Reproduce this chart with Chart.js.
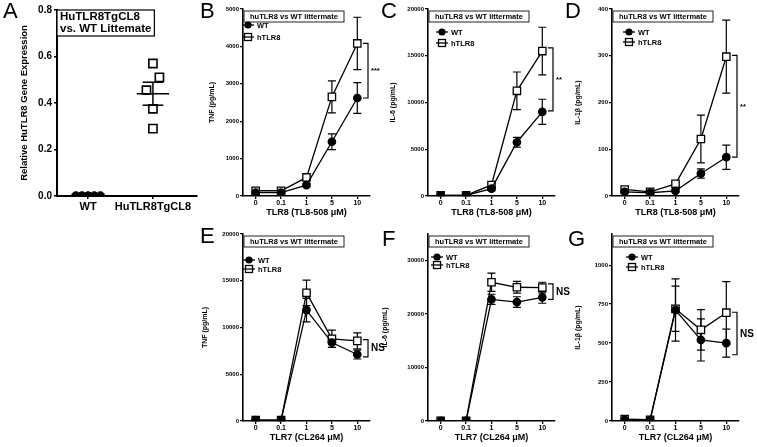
<!DOCTYPE html>
<html>
<head>
<meta charset="utf-8">
<script src="https://cdn.jsdelivr.net/npm/chart.js@4.4.1/dist/chart.umd.min.js"></script>
<style>
  html, body { margin: 0; padding: 0; background: #fff; }
  #fig { position: relative; width: 757px; height: 447px; overflow: hidden; font-family: "Liberation Sans", Arial, sans-serif; }
  .pane { position: absolute; }
  .letter { position: absolute; font-size: 22px; line-height: 22px; color: #000; z-index: 5; }
</style>
</head>
<body>
<div id="fig"></div>
<script>
// ------------------------------------------
// data
// ------------------------------------------
const GROUPS = ['WT', 'HuTLR8TgCL8'];
const EXPR_WT = [0, 0, 0, 0, 0];
const EXPR_TG = [0.57, 0.51, 0.455, 0.375, 0.29];
const LEGEND_A = ['HuTLR8TgCL8', 'vs. WT Littemate'];

const DOSES = ['0', '0.1', '1', '5', '10'];
const SERIES_NAMES = ['WT', 'hTLR8'];
const LEGEND_TITLE = 'huTLR8 vs WT littermate';

// B: TNF, TLR8 agonist
const TNF8_WT = [88, 88, 292, 1451, 2620];
const TNF8_WT_SEM = [20, 20, 40, 210, 410];
const TNF8_TG = [140, 140, 496, 2650, 4080];
const TNF8_TG_SEM = [30, 30, 60, 430, 700];
const SIG_B = ['***', 4080, 2620];

// C: IL-6, TLR8 agonist
const IL6_8_WT = [60, 60, 785, 5750, 9000];
const IL6_8_WT_SEM = [30, 30, 200, 520, 1350];
const IL6_8_TG = [60, 60, 1180, 11250, 15500];
const IL6_8_TG_SEM = [30, 30, 250, 2010, 2550];
const SIG_C = ['**', 15840, 9100];

// D: IL-1b, TLR8 agonist
const IL1_8_WT = [9, 7, 11, 48, 83];
const IL1_8_WT_SEM = [3, 2, 3, 10, 26];
const IL1_8_TG = [14, 9, 26, 122, 298];
const IL1_8_TG_SEM = [3, 2, 4, 51, 78];
const SIG_D = ['**', 301, 83];

// E: TNF, TLR7 agonist
const TNF7_WT = [100, 100, 11860, 8390, 7110];
const TNF7_WT_SEM = [50, 50, 1250, 530, 480];
const TNF7_TG = [100, 100, 13710, 8790, 8570];
const TNF7_TG_SEM = [50, 50, 1360, 920, 860];
const SIG_E = ['NS', 8710, 6860];

// F: IL-6, TLR7 agonist
const IL6_7_WT = [30, 30, 22770, 22260, 23140];
const IL6_7_WT_SEM = [0, 0, 950, 1000, 1100];
const IL6_7_TG = [30, 30, 25970, 25030, 24970];
const IL6_7_TG_SEM = [0, 0, 1700, 1100, 1000];
const SIG_F = ['NS', 25660, 22770];

// G: IL-1b, TLR7 agonist
const IL1_7_WT = [8, 5, 712, 520, 500];
const IL1_7_WT_SEM = [4, 2, 200, 135, 90];
const IL1_7_TG = [12, 8, 720, 585, 695];
const IL1_7_TG_SEM = [5, 3, 145, 130, 200];
const SIG_G = ['NS', 698, 425];

// ------------------------------------------
// setup
// ------------------------------------------
const FONT = "'Liberation Sans', Arial, sans-serif";
Chart.defaults.font.family = FONT;
Chart.defaults.color = '#000';
const fig = document.getElementById('fig');

function addLetter(txt, x, y) {
    const d = document.createElement('div');
    d.className = 'letter';
    d.textContent = txt;
    d.style.left = x + 'px';
    d.style.top = y + 'px';
    fig.appendChild(d);
}

function addPane(left, top, w, h) {
    const d = document.createElement('div');
    d.className = 'pane';
    d.style.left = left + 'px';
    d.style.top = top + 'px';
    d.style.width = w + 'px';
    d.style.height = h + 'px';
    const cv = document.createElement('canvas');
    d.appendChild(cv);
    fig.appendChild(d);
    return cv;
}

// ticks at 0, step, 2*step ... up to max
function evenTicks(max, step) {
    return s => {
        const out = [];
        for (let k = 0; k * step <= max + 1e-9; k++) out.push({ value: +(k * step).toFixed(6) });
        s.ticks = out;
    };
}

function meanSem(vals) {
    const n = vals.length;
    const m = vals.reduce((a, b) => a + b, 0) / n;
    const sd = Math.sqrt(vals.reduce((a, b) => a + (b - m) * (b - m), 0) / (n - 1));
    return [m, sd / Math.sqrt(n)];
}

// sideways spread so markers don't sit on top of each other
function swarm(vals, step, near) {
    const off = vals.map(() => 0);
    const groups = {};
    vals.forEach((v, i) => (groups[v] = groups[v] || []).push(i));
    Object.values(groups).forEach(g => {
        if (g.length > 1) g.forEach((idx, k) => off[idx] = (k - (g.length - 1) / 2) * step);
    });
    const order = vals.map((v, i) => i).sort((a, b) => vals[b] - vals[a]);
    for (let k = 1; k < order.length; k++) {
        const a = order[k - 1], b = order[k];
        const d = vals[a] - vals[b];
        if (d > 0 && d < near && off[a] === 0 && off[b] === 0) { off[a] = step; off[b] = -step; }
    }
    return off;
}

// ------------------------------------------
// panel A
// ------------------------------------------
function panelA() {
    const cv = addPane(14, 0, 190, 225);
    const offWT = swarm(EXPR_WT, 0.095, 0.058);
    const offTG = swarm(EXPR_TG, 0.1, 0.058);

    const aDeco = {
        id: 'aDeco',
        afterDatasetsDraw(chart) {
            const { ctx, scales: { x, y } } = chart;
            ctx.save();
            ctx.strokeStyle = '#000';
            ctx.lineWidth = 1.5;
            [EXPR_WT, EXPR_TG].forEach((vals, gi) => {
                const [m, s] = meanSem(vals);
                const line = (x0, x1, v) => {
                    ctx.beginPath();
                    ctx.moveTo(x.getPixelForValue(gi + x0), y.getPixelForValue(v));
                    ctx.lineTo(x.getPixelForValue(gi + x1), y.getPixelForValue(v));
                    ctx.stroke();
                };
                line(-0.25, 0.25, m);
                if (s > 0) {
                    line(-0.16, 0.16, m + s);
                    line(-0.16, 0.16, m - s);
                    ctx.beginPath();
                    ctx.moveTo(x.getPixelForValue(gi), y.getPixelForValue(m + s));
                    ctx.lineTo(x.getPixelForValue(gi), y.getPixelForValue(m - s));
                    ctx.stroke();
                }
            });
            ctx.restore();
        },
        afterDraw(chart) {
            const { ctx, chartArea } = chart;
            ctx.save();
            ctx.font = 'bold 11.5px ' + FONT;
            const w = Math.max(...LEGEND_A.map(t => ctx.measureText(t).width)) + 6;
            ctx.fillStyle = '#fff';
            ctx.fillRect(chartArea.left, chartArea.top, w, 26);
            ctx.strokeStyle = '#000';
            ctx.lineWidth = 1.2;
            ctx.strokeRect(chartArea.left, chartArea.top, w, 26);
            ctx.fillStyle = '#000';
            ctx.textBaseline = 'middle';
            LEGEND_A.forEach((t, i) => ctx.fillText(t, chartArea.left + 3, chartArea.top + 7 + i * 12));
            ctx.restore();
        }
    };

    new Chart(cv, {
        type: 'scatter',
        data: {
            datasets: [
                {
                    label: GROUPS[0],
                    data: EXPR_WT.map((v, i) => ({ x: 0 + offWT[i], y: v })),
                    pointStyle: 'circle', pointRadius: 4.3,
                    pointBackgroundColor: '#000', pointBorderColor: '#000'
                },
                {
                    label: GROUPS[1],
                    data: EXPR_TG.map((v, i) => ({ x: 1 + offTG[i], y: v })),
                    pointStyle: 'rect', pointRadius: 5.8,
                    pointBackgroundColor: '#fff', pointBorderColor: '#000', pointBorderWidth: 1.6
                }
            ]
        },
        options: {
            responsive: true, maintainAspectRatio: false, animation: false,
            layout: { padding: { top: 10, right: 7, left: 0, bottom: 0 }, autoPadding: false },
            plugins: { legend: { display: false }, tooltip: { enabled: false } },
            scales: {
                x: {
                    type: 'linear', min: -0.48, max: 1.68,
                    afterBuildTicks: s => { s.ticks = GROUPS.map((g, i) => ({ value: i })); },
                    afterFit: s => { s.height = 29; },
                    grid: { drawOnChartArea: false, tickLength: 3, color: '#000', lineWidth: 1.5 },
                    border: { color: '#000', width: 2 },
                    ticks: {
                        callback: (v, i) => GROUPS[i], padding: 1,
                        font: { size: 11, weight: 'bold' }, color: '#000', maxRotation: 0
                    }
                },
                y: {
                    min: 0, max: 0.8,
                    afterFit: s => { s.width = 43; },
                    afterBuildTicks: evenTicks(0.8, 0.2),
                    grid: { drawOnChartArea: false, tickLength: 3, color: '#000', lineWidth: 1.5 },
                    border: { color: '#000', width: 2 },
                    ticks: { callback: v => v.toFixed(1), padding: 2, font: { size: 10, weight: 'bold' }, color: '#000' },
                    title: {
                        display: true, text: 'Relative HuTLR8 Gene Expression', color: '#000',
                        font: { size: 9.5, weight: 'bold' }, padding: { top: 5, bottom: 0 }
                    }
                }
            }
        },
        plugins: [aDeco]
    });
}

// ------------------------------------------
// panels B-G
// ------------------------------------------
const PLOT_W = 127;

function panelDeco(p) {
    return {
        id: 'deco',
        beforeDatasetsDraw(chart) {
            const { ctx, scales: { x, y } } = chart;
            ctx.save();
            ctx.strokeStyle = '#000';
            ctx.lineWidth = 1.2;
            chart.data.datasets.forEach(ds => {
                ds.data.forEach((v, i) => {
                    const e = ds.sem[i];
                    if (!e) return;
                    const px = x.getPixelForValue(i);
                    const t = y.getPixelForValue(v + e);
                    const b = y.getPixelForValue(Math.max(0, v - e));
                    ctx.beginPath();
                    ctx.moveTo(px, t); ctx.lineTo(px, b);
                    ctx.moveTo(px - 4, t); ctx.lineTo(px + 4, t);
                    ctx.moveTo(px - 4, b); ctx.lineTo(px + 4, b);
                    ctx.stroke();
                });
            });
            ctx.restore();
        },
        afterDraw(chart) {
            const { ctx, chartArea, scales: { y } } = chart;
            ctx.save();
            // legend box
            const bx = chartArea.left + 1, by = chartArea.top + 2;
            ctx.fillStyle = '#fff';
            ctx.fillRect(bx, by, 100, 11);
            ctx.strokeStyle = '#222';
            ctx.lineWidth = 1;
            ctx.strokeRect(bx, by, 100, 11);
            ctx.fillStyle = '#000';
            ctx.font = 'bold 7.5px ' + FONT;
            ctx.textAlign = 'center';
            ctx.textBaseline = 'middle';
            ctx.fillText(LEGEND_TITLE, bx + 50, by + 6);
            // legend rows
            ctx.textAlign = 'left';
            SERIES_NAMES.forEach((name, i) => {
                const mx = chartArea.left + p.legDx;
                const my = chartArea.top + p.legRows[i];
                ctx.strokeStyle = '#000';
                ctx.lineWidth = 1.3;
                ctx.beginPath();
                ctx.moveTo(mx - 6, my); ctx.lineTo(mx + 6, my);
                ctx.stroke();
                if (i === 0) {
                    ctx.beginPath();
                    ctx.arc(mx, my, 3.6, 0, Math.PI * 2);
                    ctx.fill();
                } else {
                    ctx.strokeRect(mx - 3.5, my - 3.5, 7, 7);
                }
                ctx.fillText(name, mx + 9, my + 0.5);
            });
            // significance bracket
            const [label, hi, lo] = p.sig;
            const sx = chartArea.right - 2;
            const yt = y.getPixelForValue(hi), yb = y.getPixelForValue(lo);
            ctx.lineWidth = 1.2;
            ctx.beginPath();
            ctx.moveTo(sx - 5, yt); ctx.lineTo(sx, yt); ctx.lineTo(sx, yb); ctx.lineTo(sx - 5, yb);
            ctx.stroke();
            ctx.font = (label === 'NS' ? 'bold 10px ' : 'bold 7.5px ') + FONT;
            ctx.fillText(label, sx + 3, (yt + yb) / 2 + 0.5);
            ctx.restore();
        }
    };
}

function linePanel(p) {
    const left = p.axisX - p.yw;
    const w = p.yw + PLOT_W + 24;
    const cv = addPane(left, p.top, w, p.h);
    new Chart(cv, {
        type: 'line',
        data: {
            labels: DOSES,
            datasets: [
                {
                    label: SERIES_NAMES[0], data: p.wt, sem: p.wtSem,
                    borderColor: '#000', borderWidth: 1.3, tension: 0, fill: false,
                    pointStyle: 'circle', pointRadius: 3.7,
                    pointBackgroundColor: '#000', pointBorderColor: '#000'
                },
                {
                    label: SERIES_NAMES[1], data: p.tg, sem: p.tgSem,
                    borderColor: '#000', borderWidth: 1.3, tension: 0, fill: false,
                    pointStyle: 'rect', pointRadius: 5.2,
                    pointBackgroundColor: '#fff', pointBorderColor: '#000', pointBorderWidth: 1.3
                }
            ]
        },
        options: {
            responsive: true, maintainAspectRatio: false, animation: false,
            layout: { padding: { top: 9, right: 24, left: 0, bottom: 0 }, autoPadding: false },
            plugins: { legend: { display: false }, tooltip: { enabled: false } },
            scales: {
                x: {
                    offset: true,
                    afterFit: s => { s.height = p.h - 196; },
                    grid: { drawOnChartArea: false, offset: false, tickLength: 3, color: '#000', lineWidth: 1.3 },
                    border: { color: '#000', width: 1.6 },
                    ticks: { color: '#000', font: { size: 7, weight: 'bold' }, padding: 0, maxRotation: 0, autoSkip: false },
                    title: {
                        display: true, text: p.xTitle, color: '#000',
                        font: { size: 9, weight: 'bold' }, padding: { top: 0, bottom: p.titlePad }
                    }
                },
                y: {
                    min: 0, max: p.max,
                    afterFit: s => { s.width = p.yw; },
                    afterBuildTicks: evenTicks(p.max, p.step),
                    grid: { drawOnChartArea: false, tickLength: 3, color: '#000', lineWidth: 1.3 },
                    border: { color: '#000', width: 1.6 },
                    ticks: { callback: v => String(v), color: '#000', font: { size: 6, weight: 'bold' }, padding: 1 },
                    title: {
                        display: true, text: p.yTitle, color: '#000',
                        font: { size: 7, weight: 'bold' }, padding: { top: 3, bottom: 0 }
                    }
                }
            }
        },
        plugins: [panelDeco(p)]
    });
}

const X8 = 'TLR8 (TL8-508 \u03bcM)';
const X7 = 'TLR7 (CL264 \u03bcM)';

panelA();
linePanel({ axisX: 243, top: 0, h: 225, yw: 38, titlePad: 7, wt: TNF8_WT, wtSem: TNF8_WT_SEM, tg: TNF8_TG, tgSem: TNF8_TG_SEM,
    max: 5000, step: 1000, yTitle: 'TNF (pg/mL)', xTitle: X8, sig: SIG_B, legDx: 5, legRows: [16, 28] });
linePanel({ axisX: 428, top: 0, h: 225, yw: 42, titlePad: 7, wt: IL6_8_WT, wtSem: IL6_8_WT_SEM, tg: IL6_8_TG, tgSem: IL6_8_TG_SEM,
    max: 20000, step: 5000, yTitle: 'IL-6 (pg/mL)', xTitle: X8, sig: SIG_C, legDx: 14, legRows: [23, 34] });
linePanel({ axisX: 612, top: 0, h: 225, yw: 41, titlePad: 7, wt: IL1_8_WT, wtSem: IL1_8_WT_SEM, tg: IL1_8_TG, tgSem: IL1_8_TG_SEM,
    max: 400, step: 100, yTitle: 'IL-1\u03b2 (pg/mL)', xTitle: X8, sig: SIG_D, legDx: 17, legRows: [23, 33] });
linePanel({ axisX: 243, top: 225, h: 222, yw: 45, titlePad: 4, wt: TNF7_WT, wtSem: TNF7_WT_SEM, tg: TNF7_TG, tgSem: TNF7_TG_SEM,
    max: 20000, step: 5000, yTitle: 'TNF (pg/mL)', xTitle: X7, sig: SIG_E, legDx: 6, legRows: [26, 35] });
linePanel({ axisX: 428, top: 225, h: 222, yw: 50, titlePad: 4, wt: IL6_7_WT, wtSem: IL6_7_WT_SEM, tg: IL6_7_TG, tgSem: IL6_7_TG_SEM,
    max: 35000, step: 10000, yTitle: 'IL-6 (pg/mL)', xTitle: X7, sig: SIG_F, legDx: 9, legRows: [23, 31] });
linePanel({ axisX: 612, top: 225, h: 222, yw: 41, titlePad: 4, wt: IL1_7_WT, wtSem: IL1_7_WT_SEM, tg: IL1_7_TG, tgSem: IL1_7_TG_SEM,
    max: 1200, step: 250, yTitle: 'IL-1\u03b2 (pg/mL)', xTitle: X7, sig: SIG_G, legDx: 20, legRows: [23, 33] });

addLetter('A', 3, 0);
addLetter('B', 200, 0);
addLetter('C', 381, 0);
addLetter('D', 565, 0);
addLetter('E', 200, 225);
addLetter('F', 382, 228);
addLetter('G', 568, 228);
</script>
</body>
</html>
